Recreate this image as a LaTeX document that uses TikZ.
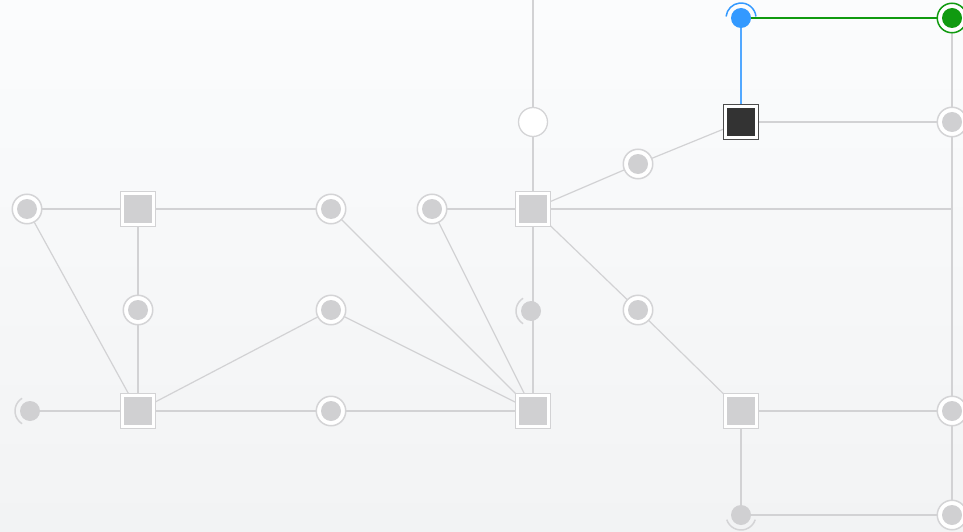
\documentclass[tikz,border=0pt]{standalone}
\usetikzlibrary{calc}
\definecolor{lineg}{HTML}{D2D2D4}
\definecolor{dotg}{HTML}{D0D0D2}
\definecolor{ringg}{HTML}{D4D4D6}
\definecolor{blu}{HTML}{3399FF}
\definecolor{grn}{HTML}{109A10}
\definecolor{dark}{HTML}{333333}
\definecolor{bgtop}{HTML}{FBFCFD}
\definecolor{bgbot}{HTML}{F2F3F4}
\tikzset{
  edge/.style={draw=lineg, line width=1.2pt},
  sqbox/.style={draw=lineg, fill=white, line width=1.3pt, minimum size=35.5pt, inner sep=0pt,
    path picture={\fill[dotg] ($(path picture bounding box.center)+(-14pt,-14pt)$) rectangle ($(path picture bounding box.center)+(14pt,14pt)$);}},
  darkbox/.style={draw=black!70, fill=white, line width=1.3pt, minimum size=35.5pt, inner sep=0pt,
    path picture={\fill[dark] ($(path picture bounding box.center)+(-14pt,-14pt)$) rectangle ($(path picture bounding box.center)+(14pt,14pt)$);}},
  dot/.style={circle, fill=dotg, minimum size=20pt, inner sep=0pt},
  ringfull/.style={circle, draw=ringg, fill=white, line width=1.5pt, minimum size=29.5pt, inner sep=0pt},
  arcline/.style={draw=ringg, line width=1.5pt},
}
\begin{document}
\begin{tikzpicture}[x=1pt,y=1pt]
\shade[top color=bgtop, bottom color=bgbot] (0,0) rectangle (963,-532);
\useasboundingbox (0,0) rectangle (963,-532);

% coordinates
\coordinate (topend) at (533,0);
\coordinate (jr) at (952,-209);

% squares
\node[sqbox] (s1) at (138,-209) {};
\node[sqbox] (s2) at (533,-209) {};
\node[darkbox] (s3) at (741,-122) {};
\node[sqbox] (s4) at (138,-411) {};
\node[sqbox] (s5) at (533,-411) {};
\node[sqbox] (s6) at (741,-411) {};

\coordinate (pb) at (741,-18);
\coordinate (pg) at (952,-18);
\coordinate (pw) at (533,-122);
\coordinate (c1) at (952,-122);
\coordinate (c2) at (27,-209);
\coordinate (c3) at (331,-209);
\coordinate (c4) at (432,-209);
\coordinate (c5) at (638,-164);
\coordinate (c6) at (138,-310);
\coordinate (c7) at (331,-310);
\coordinate (c8) at (531,-311);
\coordinate (c9) at (638,-310);
\coordinate (c10) at (30,-411);
\coordinate (c11) at (331,-411);
\coordinate (c12) at (952,-411);
\coordinate (c13) at (741,-515);
\coordinate (c14) at (952,-515);

% edges
\draw[edge] (topend) -- (pw) -- (s2.center);
\draw[edge] (s2.center) -- (s5.center);
\draw[edge] (s2.center) -- (c4);
\draw[edge] (s2.center) -- (jr);
\draw[edge] (s2.center) -- (c5) -- (s3.center);
\draw[edge] (s2.center) -- (c9) -- (s6.center);
\draw[edge] (s3.center) -- (c1);
\draw[edge] (pg) -- (c1) -- (jr) -- (c12) -- (c14);
\draw[edge] (s6.center) -- (c12);
\draw[edge] (s6.center) -- (c13) -- (c14);
\draw[edge] (s1.center) -- (c2);
\draw[edge] (s1.center) -- (c3);
\draw[edge] (c2) -- (s4.center);
\draw[edge] (s1.center) -- (c6) -- (s4.center);
\draw[edge] (s4.center) -- (c10);
\draw[edge] (s4.center) -- (c7) -- (s5.center);
\draw[edge] (s4.center) -- (c11) -- (s5.center);
\draw[edge] (c3) -- (s5.center);
\draw[edge] (c4) -- (s5.center);
\draw[draw=blu!85!white, line width=1.6pt] (s3.center) -- (pb);
\draw[draw=grn, line width=1.2pt] (pb) -- (pg);

% squares on top
\node[sqbox] at (s1) {};
\node[sqbox] at (s2) {};
\node[darkbox] at (s3) {};
\node[sqbox] at (s4) {};
\node[sqbox] at (s5) {};
\node[sqbox] at (s6) {};

% white circle
\node[circle, draw=ringg, fill=white, line width=1.3pt, minimum size=29pt, inner sep=0pt] (nw) at (pw) {};

% full ring dots
\foreach \c in {c1,c2,c3,c4,c5,c6,c7,c9,c11,c12,c14}{
  \node[ringfull] at (\c) {};
  \node[dot] (d\c) at (\c) {};
}
% partial rings
\draw[arcline] ($(c8)+(122:15pt)$) arc[start angle=122, end angle=238, radius=15pt];
\node[dot] (dc8) at (c8) {};
\draw[arcline] ($(c10)+(122:15pt)$) arc[start angle=122, end angle=238, radius=15pt];
\node[dot] (dc10) at (c10) {};
\draw[arcline] ($(c13)+(198:15pt)$) arc[start angle=198, end angle=342, radius=15pt];
\node[dot] (dc13) at (c13) {};

% blue
\draw[draw=blu, line width=1.5pt] ($(pb)+(6:15pt)$) arc[start angle=6, end angle=174, radius=15pt];
\node[circle, fill=blu, minimum size=20pt, inner sep=0pt] (nb) at (pb) {};
% green
\node[circle, draw=grn, fill=white, line width=1.5pt, minimum size=29.5pt, inner sep=0pt] at (pg) {};
\node[circle, fill=grn, minimum size=20pt, inner sep=0pt] (ng) at (pg) {};
\end{tikzpicture}
\end{document}
